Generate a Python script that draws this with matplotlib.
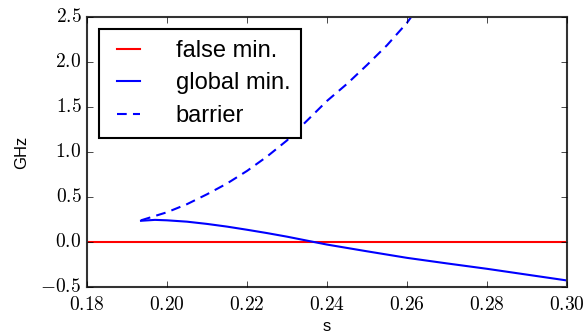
import numpy as np
import matplotlib
matplotlib.use("Agg")
import matplotlib.pyplot as plt
from matplotlib.ticker import FuncFormatter

plt.style.use("classic")
plt.rcParams["font.family"] = ["Liberation Sans", "DejaVu Sans"]
plt.rcParams["mathtext.fontset"] = "cm"

# minimum energies vs annealing parameter s (GHz)
s_false = [0.18, 0.30]
e_false = [0.0, 0.0]

s_global = [0.1935, 0.197, 0.200, 0.205, 0.210, 0.215, 0.220, 0.225, 0.230,
            0.236, 0.240, 0.250, 0.260, 0.270, 0.280, 0.290, 0.300]
e_global = [0.235, 0.245, 0.24, 0.225, 0.20, 0.17, 0.135, 0.098, 0.058,
            0.005, -0.03, -0.105, -0.178, -0.24, -0.30, -0.365, -0.43]

s_barrier = [0.1935, 0.200, 0.205, 0.210, 0.215, 0.220, 0.225, 0.230,
             0.235, 0.240, 0.245, 0.250, 0.255, 0.260, 0.265]
e_barrier = [0.24, 0.33, 0.42, 0.53, 0.65, 0.79, 0.95, 1.13,
             1.35, 1.57, 1.76, 1.97, 2.19, 2.44, 2.75]

fig = plt.figure(figsize=(5.87, 3.35), dpi=100, facecolor="white")
ax = fig.add_axes([0.1482, 0.144, 0.8177, 0.804])

ax.plot(s_false, e_false, color="red", lw=1.5, label="false min.")
ax.plot(s_global, e_global, color="blue", lw=1.5, label="global min.")
ax.plot(s_barrier, e_barrier, color="blue", lw=1.5, linestyle=(0, (7, 4.5)),
        label="barrier")

ax.set_xlim(0.18, 0.30)
ax.set_ylim(-0.5, 2.5)
ax.set_xticks(np.arange(0.18, 0.301, 0.02))
ax.set_yticks(np.arange(-0.5, 2.51, 0.5))
ax.xaxis.set_major_formatter(FuncFormatter(lambda v, p: r"$%.2f$" % v))
ax.yaxis.set_major_formatter(FuncFormatter(lambda v, p: r"$%.1f$" % v))
ax.tick_params(labelsize=14)
ax.tick_params(axis="x", pad=7)
for sp in ax.spines.values():
    sp.set_linewidth(1.5)
    sp.set_color("#333333")

ax.set_xlabel("s", fontsize=12, labelpad=3)
ax.set_ylabel("GHz", fontsize=12, labelpad=8)

leg = ax.legend(loc="upper left", fontsize=17, handlelength=1.6,
                handletextpad=1.2, borderpad=0.45, labelspacing=0.45)
leg.get_frame().set_linewidth(1.5)

fig.savefig("out.png", dpi=100, facecolor="white")
